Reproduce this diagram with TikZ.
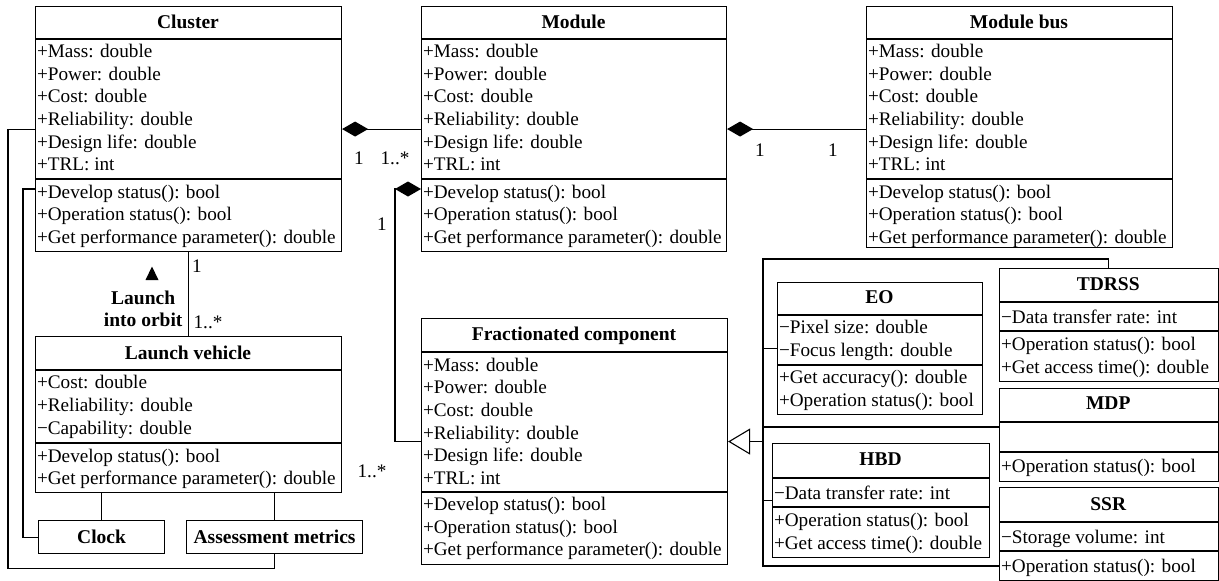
\documentclass[tikz,border=0pt]{standalone}
\usepackage{fontspec}
\setmainfont{Liberation Serif}
\usetikzlibrary{arrows.meta,calc}

\tikzset{
  clsbox/.style={draw, rectangle, inner sep=0pt, anchor=north west},
  clstitle/.style={anchor=base, inner sep=0pt, font=\fontsize{19.5}{22.6}\selectfont\bfseries},
  members/.style={anchor=north west, align=left, inner xsep=1.5pt, inner ysep=0pt},
  mult/.style={anchor=base, inner sep=0pt},
  comp/.style={-{Diamond[length=26pt,width=15pt]}},
  gen/.style={-{Triangle[open,length=22pt,width=26pt,fill=white]}},
}

% class box: name, left, top, width, header line, member line, bottom, title, title baseline offset
\newcommand\umlcls[9]{%
  \node[clsbox, minimum width=#4pt, minimum height={(#7-#3)*1pt}] (#1) at (#2,#3) {};
  \draw (#2,#5) -- ++(#4,0);
  \draw (#2,#6) -- ++(#4,0);
  \coordinate (#1-a) at (#2,#5);
  \coordinate (#1-m) at (#2,#6);
  \node[clstitle] (#1-t) at ({#2+#4/2},{#3+#9}) {#8};
}
% member list placed below a compartment line
\newcommand\mem[4]{\node[members] (#1) at ($(#2)+(0,#3)$) {\strut#4};}

\begin{document}
\begin{tikzpicture}[x=1pt,y=-1pt,line width=1.1pt,font=\fontsize{19.2}{22.6}\selectfont]
\useasboundingbox (0,0) rectangle (1219,581);

% ---- classes ----
\umlcls{cluster}{35}{6}{306}{39}{179}{251}{Cluster}{22.6}
\mem{cluster-at}{cluster-a}{2.4}{+Mass: double\\+Power: double\\+Cost: double\\+Reliability: double\\+Design life: double\\+TRL: int}
\mem{cluster-mt}{cluster-m}{2.9}{+Develop status(): bool\\+Operation status(): bool\\+Get performance parameter(): double}

\umlcls{module}{421}{6}{305}{39}{179}{251}{Module}{22.6}
\mem{module-at}{module-a}{2.4}{+Mass: double\\+Power: double\\+Cost: double\\+Reliability: double\\+Design life: double\\+TRL: int}
\mem{module-mt}{module-m}{2.9}{+Develop status(): bool\\+Operation status(): bool\\+Get performance parameter(): double}

\umlcls{modbus}{866}{6}{306}{39}{179}{247}{Module bus}{22.6}
\mem{modbus-at}{modbus-a}{2.4}{+Mass: double\\+Power: double\\+Cost: double\\+Reliability: double\\+Design life: double\\+TRL: int}
\mem{modbus-mt}{modbus-m}{2.9}{+Develop status(): bool\\+Operation status(): bool\\+Get performance parameter(): double}

\umlcls{lv}{35}{336}{306}{370}{443}{492}{Launch vehicle}{23.3}
\mem{lv-at}{lv-a}{2.5}{+Cost: double\\+Reliability: double\\−Capability: double}
\mem{lv-mt}{lv-m}{2.9}{+Develop status(): bool\\+Get performance parameter(): double}

\umlcls{frac}{421}{318}{306}{352}{492}{564}{Fractionated component}{22.7}
\mem{frac-at}{frac-a}{2.9}{+Mass: double\\+Power: double\\+Cost: double\\+Reliability: double\\+Design life: double\\+TRL: int}
\mem{frac-mt}{frac-m}{2.2}{+Develop status(): bool\\+Operation status(): bool\\+Get performance parameter(): double}

\umlcls{eo}{777}{282}{205}{315}{365}{414}{EO}{21.3}
\mem{eo-at}{eo-a}{2.5}{−Pixel size: double\\−Focus length: double}
\mem{eo-mt}{eo-m}{2.5}{+Get accuracy(): double\\+Operation status(): bool}

\umlcls{hbd}{772}{443}{217}{478}{507}{557}{HBD}{22}
\mem{hbd-at}{hbd-a}{5.5}{−Data transfer rate: int}
\mem{hbd-mt}{hbd-m}{3.2}{+Operation status(): bool\\+Get access time(): double}

\umlcls{tdrss}{999}{268}{218.5}{302}{331}{381}{TDRSS}{22}
\mem{tdrss-at}{tdrss-a}{5.5}{−Data transfer rate: int}
\mem{tdrss-mt}{tdrss-m}{3.2}{+Operation status(): bool\\+Get access time(): double}

\umlcls{mdp}{999}{388}{218.5}{422}{452}{481}{MDP}{21.3}
\mem{mdp-mt}{mdp-m}{3.9}{+Operation status(): bool}

\umlcls{ssr}{999}{487}{218.5}{522}{551}{580}{SSR}{23}
\mem{ssr-at}{ssr-a}{5.5}{−Storage volume: int}
\mem{ssr-mt}{ssr-m}{4.9}{+Operation status(): bool}

\node[clsbox, minimum width=126pt, minimum height=33pt, font=\fontsize{19.5}{22.6}\selectfont\bfseries] (clock) at (38,520) {Clock};
\node[clsbox, minimum width=176pt, minimum height=33pt, font=\fontsize{19.5}{22.6}\selectfont\bfseries] (am) at (186,520) {Assessment metrics};

% ---- compositions ----
\draw[comp] (module.west) -- (cluster.east);
\draw[comp] (module.east -| modbus.west) -- (module.east);
\coordinate (module-c) at ($(module.north west)+(0,183)$);
\draw[comp] (frac.west) -| ($(module-c)+(-26,0)$) -- (module-c);

\node[mult] (m1) at (359,164) {1};
\node[mult] (m2) at (395,164) {1..*};
\node[mult] (m3) at (760,156) {1};
\node[mult] (m4) at (833,156) {1};
\node[mult] (m5) at (382,230) {1};
\node[mult] (m6) at (372,477) {1..*};

% ---- cluster / launch vehicle ----
\draw (cluster.south) -- (lv.north);
\node[mult] (m7) at (197,272) {1};
\node[mult] (m8) at (208,328) {1..*};
\fill (152,266.5) -- (158.5,280) -- (145.5,280) -- cycle;
\node[anchor=north east, align=center, inner sep=0pt, font=\fontsize{19.5}{22}\selectfont\bfseries] (launch) at (183,288.6) {\strut Launch\\into orbit};

\draw (clock.north) -- (clock.north |- lv.south);
\draw (am.north) -- (am.north |- lv.south);
\draw (cluster.west) -- ++(-27,0) |- ($(am.south)+(0,14)$) -- (am.south);
\coordinate (cluster-c) at ($(cluster.north west)+(0,183)$);
\draw (cluster-c) -- ++(-12,0) |- (clock.west);

% ---- generalization of fractionated components ----
\coordinate (busT) at (763,259);
\coordinate (busB) at (763,566);
\draw (tdrss.north) |- (busT) -- (busB) -- (busB -| ssr.west);
\draw (eo.west) -- (eo.west -| busT);
\draw (hbd.west) -- (hbd.west -| busT);
\coordinate (mdp-c) at ($(mdp.north west)+(0,39)$);
\draw (mdp-c) -- (mdp-c -| busT);
\draw[gen] (frac.east -| busT) -- (frac.east);
\end{tikzpicture}
\end{document}
